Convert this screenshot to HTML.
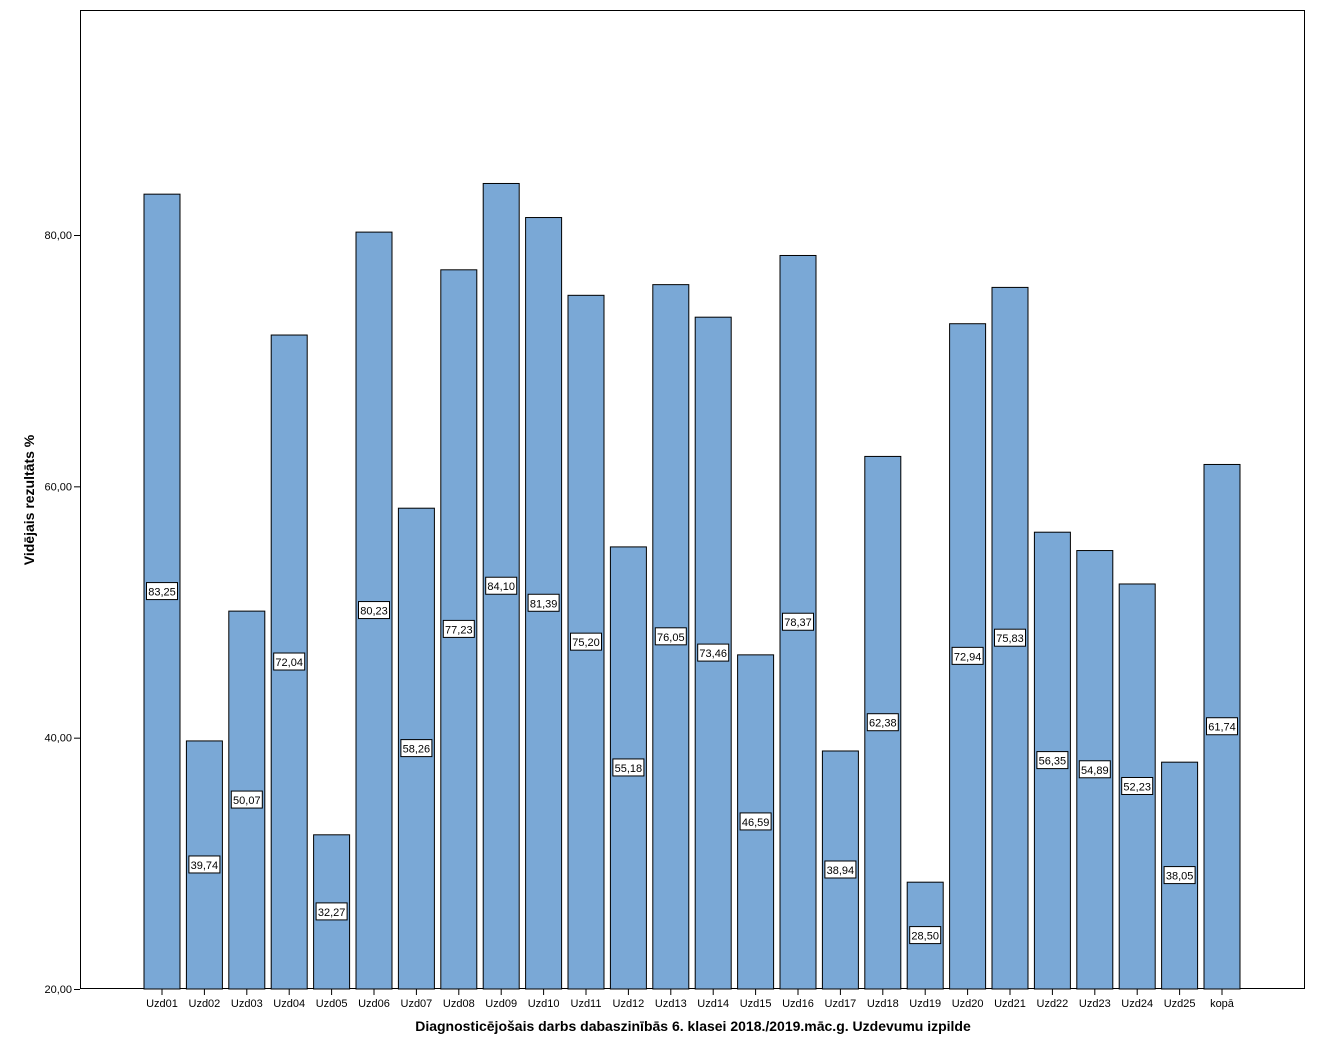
<!DOCTYPE html>
<html><head><meta charset="utf-8"><style>
body{margin:0;background:#fff;font-family:"Liberation Sans",sans-serif;}
</style></head><body>
<svg id="chart" width="1318" height="1053" xmlns="http://www.w3.org/2000/svg" font-family="Liberation Sans, sans-serif">
<rect x="0" y="0" width="1318" height="1053" fill="#fff"/>
<rect x="80.5" y="10.5" width="1224" height="978" fill="#fff" stroke="#000" stroke-width="1"/>
<g id="yaxis"></g>
<g id="bars"></g>
<g id="xaxis"></g>
<text x="0" y="0" transform="translate(34,500) rotate(-90)" text-anchor="middle" font-size="14" font-weight="bold">Vidējais rezultāts %</text>
<text x="693" y="1031" text-anchor="middle" font-size="14" font-weight="bold">Diagnosticējošais darbs dabaszinībās 6. klasei 2018./2019.māc.g. Uzdevumu izpilde</text>
</svg>
<script>
const categories=["Uzd01","Uzd02","Uzd03","Uzd04","Uzd05","Uzd06","Uzd07","Uzd08","Uzd09","Uzd10","Uzd11","Uzd12","Uzd13","Uzd14","Uzd15","Uzd16","Uzd17","Uzd18","Uzd19","Uzd20","Uzd21","Uzd22","Uzd23","Uzd24","Uzd25","kopā"];
const values=[83.25,39.74,50.07,72.04,32.27,80.23,58.26,77.23,84.10,81.39,75.20,55.18,76.05,73.46,46.59,78.37,38.94,62.38,28.50,72.94,75.83,56.35,54.89,52.23,38.05,61.74];
const yTicks=[20,40,60,80];
const NS="http://www.w3.org/2000/svg";
const yMin=20,yBase=989,pxPerUnit=(989-235)/60;
function y(v){return yBase-(v-yMin)*pxPerUnit;}
const firstC=162,step=(1222-162)/25,bw=36;
function x(i){return firstC+i*step;}
function mk(tag,attrs,parent){const e=document.createElementNS(NS,tag);for(const k in attrs)e.setAttribute(k,attrs[k]);parent.appendChild(e);return e;}
const ya=document.getElementById('yaxis'),ba=document.getElementById('bars'),xa=document.getElementById('xaxis');
yTicks.forEach(t=>{
 const g=mk('g',{},ya);
 
 
 mk('line',{x1:74,x2:80,y1:y(t)+0.5,y2:y(t)+0.5,stroke:'#000'},g);
 const tx=mk('text',{x:72,y:y(t)+4,'text-anchor':'end','font-size':11},g);
 tx.textContent=t.toFixed(2).replace('.',',');
});
categories.forEach((c,i)=>{
 const v=values[i];const cx=x(i);
 const g=mk('g',{},ba);
 
 
 mk('rect',{x:cx-bw/2,y:y(v),width:bw,height:yBase-y(v),fill:'#7aa8d6',stroke:'#000','stroke-width':1},g);
 const my=(y(v)+yBase)/2;
 mk('rect',{x:cx-15.5,y:my-9,width:31,height:17,fill:'#fff',stroke:'#000','stroke-width':1},g);
 const lt=mk('text',{x:cx,y:my+4,'text-anchor':'middle','font-size':11},g);
 lt.textContent=v.toFixed(2).replace('.',',');
 const tg=mk('g',{},xa);
 
 
 mk('line',{x1:cx,x2:cx,y1:989,y2:995,stroke:'#000'},tg);
 const xt=mk('text',{x:cx,y:1007,'text-anchor':'middle','font-size':11},tg);
 xt.textContent=c;
});
</script>
</body></html>
